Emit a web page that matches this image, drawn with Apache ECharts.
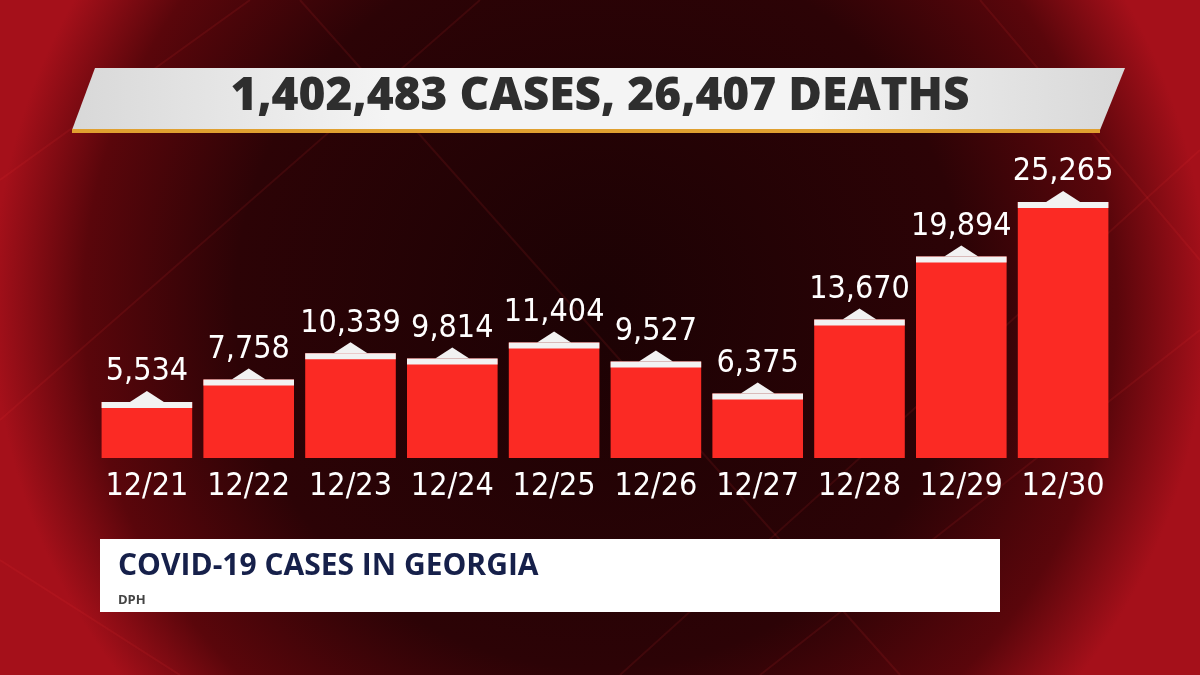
<!DOCTYPE html>
<html><head><meta charset="utf-8">
<script src="https://cdn.jsdelivr.net/npm/echarts@6/dist/echarts.min.js"></script>
<style>html,body{margin:0;padding:0;background:#1a0204}#c{width:1200px;height:675px}</style>
</head><body><div id="c"></div>
<script>
// 数据
const dates = ['12/21', '12/22', '12/23', '12/24', '12/25', '12/26', '12/27', '12/28', '12/29', '12/30'];
const cases = [5534, 7758, 10339, 9814, 11404, 9527, 6375, 13670, 19894, 25265];
const headline = '1,402,483 CASES, 26,407 DEATHS';
const boxTitle = 'COVID-19 CASES IN GEORGIA';
const boxSource = 'DPH';

const chart = echarts.init(document.getElementById('c'));

// 背景斜线
const lines = [
  [0, 180, 250, 0], [0, 420, 480, 0], [620, 675, 1200, 150], [760, 675, 1200, 330],
  [300, 0, 900, 675], [0, 560, 180, 675], [980, 0, 1200, 260]
].map(p => ({
  type: 'line', silent: true, z: -9,
  shape: { x1: p[0], y1: p[1], x2: p[2], y2: p[3] },
  style: { stroke: 'rgba(255,60,60,0.10)', lineWidth: 2 }
}));

const option = {
  backgroundColor: new echarts.graphic.RadialGradient(0.5, 0.45, 0.9, [
    { offset: 0, color: '#1c0204' },
    { offset: 0.6, color: '#2c0306' },
    { offset: 0.85, color: '#5a060b' },
    { offset: 1, color: '#a5101a' }
  ]),
  graphic: [
    ...lines,
    {
      type: 'polygon', z: 1,
      shape: { points: [[95, 68], [1125, 68], [1100, 130], [72, 130]] },
      style: {
        fill: new echarts.graphic.LinearGradient(0, 0, 1, 0, [
          { offset: 0, color: '#d8d8d8' }, { offset: 0.3, color: '#f4f4f4' },
          { offset: 0.7, color: '#f4f4f4' }, { offset: 1, color: '#d8d8d8' }
        ])
      }
    },
    { type: 'rect', z: 1, shape: { x: 72, y: 129, width: 1028, height: 4 }, style: { fill: '#e0a030' } },
    {
      type: 'text', z: 2, left: 'center', top: 74,
      style: { text: headline, fill: '#2e2e2e', font: '800 46px "Open Sans", sans-serif' }
    },
    { type: 'rect', z: 1, shape: { x: 100, y: 539, width: 900, height: 73 }, style: { fill: '#fff' } },
    { type: 'text', z: 2, left: 118, top: 551, style: { text: boxTitle, fill: '#16204a', font: 'bold 30px "Open Sans", sans-serif' } },
    { type: 'text', z: 2, left: 118, top: 594, style: { text: boxSource, fill: '#444', font: 'bold 13px "Open Sans", sans-serif' } }
  ],
  grid: { left: 96, right: 86, top: 130, bottom: 217 },
  xAxis: {
    type: 'category', data: dates,
    axisLine: { show: false }, axisTick: { show: false },
    axisLabel: { interval: 0, color: '#fff', fontSize: 32, fontFamily: '"DejaVu Sans Condensed"', margin: 13 }
  },
  yAxis: { type: 'value', min: 0, max: 32370, show: false, splitLine: { show: false } },
  series: [
    {
      type: 'bar', data: cases, barCategoryGap: '11%',
      itemStyle: { color: '#fb2a24' }, animation: false
    },
    {
      type: 'custom', data: cases.map((v, i) => [i, v]), z: 3, animation: false,
      renderItem: function (params, api) {
        const p = api.coord([api.value(0), api.value(1)]);
        const w = api.size([1, 0])[0] * 0.89;
        const x0 = p[0] - w / 2, y = p[1];
        return {
          type: 'group',
          children: [
            { type: 'rect', shape: { x: x0, y: y, width: w, height: 6 }, style: { fill: '#f2f2f2' } },
            { type: 'polygon', shape: { points: [[p[0] - 17, y], [p[0], y - 11], [p[0] + 17, y]] }, style: { fill: '#f2f2f2' } },
            {
              type: 'text', style: {
                text: api.value(1).toLocaleString('en-US'), x: p[0], y: y - 14,
                align: 'center', verticalAlign: 'bottom', fill: '#fff',
                font: '32px "DejaVu Sans Condensed", "DejaVu Sans", sans-serif'
              }
            }
          ]
        };
      }
    }
  ]
};
chart.setOption(option);
</script></body></html>
